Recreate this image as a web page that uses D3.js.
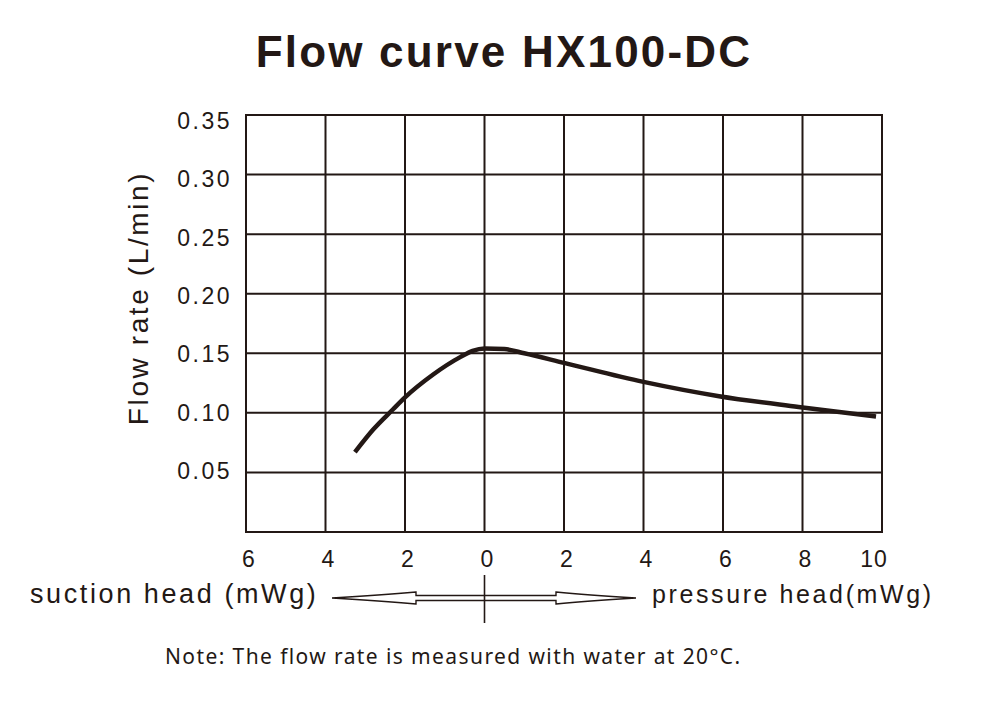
<!DOCTYPE html>
<html>
<head>
<meta charset="utf-8">
<script src="https://cdn.jsdelivr.net/npm/d3@7"></script>
<style>
  html, body { margin: 0; padding: 0; background: #fff; }
  svg { display: block; }
</style>
</head>
<body>
<div id="chart"></div>
<script>
// ---- data ----
const title = "Flow curve HX100-DC";
const yTitle = "Flow rate (L/min)";
const xTicks = [-6, -4, -2, 0, 2, 4, 6, 8, 10];
const yTicks = [0.05, 0.10, 0.15, 0.20, 0.25, 0.30, 0.35];
const headM = [-3.26, -2.8, -2.3, -2.0, -1.3, -0.6, -0.3, 0, 0.5, 1.0, 2.0, 4.0, 5.9, 7.9, 9.85];
const flowLpm = [0.067, 0.086, 0.103, 0.113, 0.132, 0.147, 0.152, 0.154, 0.1535, 0.150, 0.142, 0.126, 0.114, 0.105, 0.097];
const suctionLabel = "suction head (mWg)";
const pressureLabel = "pressure head(mWg)";
const note = "Note: The flow rate is measured with water at 20\u00B0C.";

const W = 1000, H = 722;
const ink = "#231815";
const svg = d3.select("#chart").append("svg").attr("width", W).attr("height", H);

const x = d3.scaleLinear().domain([-6, 10]).range([246, 882]);
const y = d3.scaleLinear().domain([0, 0.35]).range([532, 115]);
// tick labels in the original are set slightly tighter than the grid
const yLab = d3.scaleLinear().domain([0.05, 0.35]).range([471, 121]);

// title
svg.append("text")
  .attr("x", 504).attr("y", 67)
  .attr("text-anchor", "middle")
  .attr("font-family", "Liberation Sans, Arial, sans-serif")
  .attr("font-weight", "bold")
  .attr("font-size", 44)
  .attr("letter-spacing", 2.2)
  .attr("fill", ink)
  .text(title);

// grid
const g = svg.append("g");
g.selectAll("line.v").data(xTicks).join("line")
  .attr("x1", d => x(d)).attr("x2", d => x(d))
  .attr("y1", y(0.35)).attr("y2", y(0))
  .attr("stroke", ink).attr("stroke-width", 2);
g.selectAll("line.h").data([0].concat(yTicks)).join("line")
  .attr("class", "h")
  .attr("x1", x(-6) - 1).attr("x2", x(10) + 1)
  .attr("y1", d => y(d)).attr("y2", d => y(d))
  .attr("stroke", ink).attr("stroke-width", 2);

// y tick labels
svg.selectAll("text.yt").data(yTicks).join("text")
  .attr("class", "yt")
  .attr("x", 232).attr("y", d => yLab(d) + 8)
  .attr("text-anchor", "end")
  .attr("font-family", "Liberation Sans, Arial, sans-serif")
  .attr("font-size", 23)
  .attr("letter-spacing", 2.5)
  .attr("fill", ink)
  .text(d => d3.format(".2f")(d));

// x tick labels
svg.selectAll("text.xt").data(xTicks).join("text")
  .attr("class", "xt")
  .attr("x", d => x(d) + (d === 10 ? -8 : 3)).attr("y", 567)
  .attr("text-anchor", "middle")
  .attr("font-family", "Liberation Sans, Arial, sans-serif")
  .attr("font-size", 23)
  .attr("letter-spacing", 1)
  .attr("fill", ink)
  .text(d => Math.abs(d));

// y axis title
svg.append("text")
  .attr("transform", "translate(148,298) rotate(-90)")
  .attr("text-anchor", "middle")
  .attr("font-family", "Liberation Sans, Arial, sans-serif")
  .attr("font-size", 28)
  .attr("letter-spacing", 2.6)
  .attr("fill", ink)
  .text(yTitle);

// curve
const pts = headM.map((h, i) => [h, flowLpm[i]]);
svg.append("path")
  .datum(pts)
  .attr("d", d3.line().x(d => x(d[0])).y(d => y(d[1])).curve(d3.curveMonotoneX))
  .attr("fill", "none")
  .attr("stroke", ink)
  .attr("stroke-width", 4.5);

// bottom labels
svg.append("text")
  .attr("x", 30).attr("y", 603)
  .attr("font-family", "Liberation Sans, Arial, sans-serif")
  .attr("font-size", 27)
  .attr("letter-spacing", 2.6)
  .attr("fill", ink)
  .text(suctionLabel);
svg.append("text")
  .attr("x", 652).attr("y", 603)
  .attr("font-family", "Liberation Sans, Arial, sans-serif")
  .attr("font-size", 25)
  .attr("letter-spacing", 2.6)
  .attr("fill", ink)
  .text(pressureLabel);

// double arrow
const x0 = x(0), ay = 598;
const lt = 332, lb = 416, rb = 556, rt = 636;
const arrow = d3.path();
arrow.moveTo(lt, ay);
arrow.quadraticCurveTo(lt + 50, ay - 3, lb, ay - 6);
arrow.lineTo(lb, ay - 2.5);
arrow.lineTo(rb, ay - 2.5);
arrow.lineTo(rb, ay - 6);
arrow.quadraticCurveTo(rt - 50, ay - 3, rt, ay);
arrow.quadraticCurveTo(rt - 50, ay + 3, rb, ay + 6);
arrow.lineTo(rb, ay + 2.5);
arrow.lineTo(lb, ay + 2.5);
arrow.lineTo(lb, ay + 6);
arrow.quadraticCurveTo(lt + 50, ay + 3, lt, ay);
arrow.closePath();
svg.append("path").attr("d", arrow.toString())
  .attr("fill", "#fff").attr("stroke", ink).attr("stroke-width", 1.4);
svg.append("line")
  .attr("x1", x0).attr("x2", x0).attr("y1", 575).attr("y2", 623)
  .attr("stroke", ink).attr("stroke-width", 1.6);

// note
svg.append("text")
  .attr("x", 165).attr("y", 664)
  .attr("font-family", "Noto Sans, sans-serif")
  .attr("font-size", 21)
  .attr("letter-spacing", 1.4)
  .attr("fill", ink)
  .text(note);
</script>
</body>
</html>
